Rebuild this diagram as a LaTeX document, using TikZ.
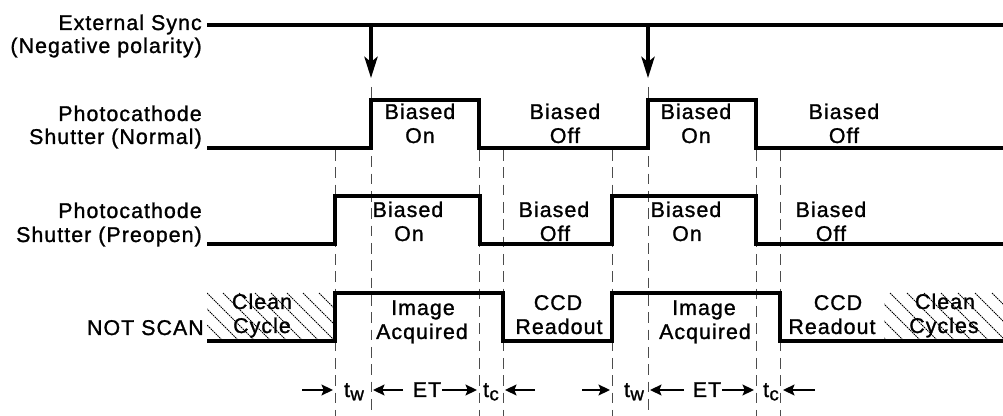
\documentclass[tikz,border=0pt]{standalone}
\usepackage{fontspec}
\setmainfont{Liberation Sans}[LetterSpace=5, FakeBold=1.2]
\usetikzlibrary{arrows.meta}
\begin{document}
\begin{tikzpicture}[x=0.75pt,y=-0.75pt,
  every node/.style={inner sep=0pt, font=\fontsize{16}{18}\selectfont},
  lab/.style={anchor=base east},
  txt/.style={anchor=base},
  sig/.style={line width=2.3pt, line join=miter, line cap=butt},
  guide/.style={line width=0.6pt, black!70, dash pattern=on 8pt off 5pt},
  hatch/.style={line width=0.6pt, dash pattern=on 1.2pt off 0.6pt},
  syncarrow/.style={line width=2.3pt, -{Stealth[length=16pt,width=10pt,inset=4pt]}},
  tarrow/.style={line width=2.2pt, -{Stealth[length=8.5pt,width=8pt,inset=1.5pt]}}
]
\useasboundingbox (0,0) rectangle (1003,416);

% ---- dashed guide lines
\foreach \gx/\gy in {335/150,371/87,479/150,503/150,612/150,648/87,756/150,780/150}
  \draw[guide] (\gx,\gy) -- (\gx,416);

% ---- hatched clean-cycle regions
\begin{scope}
  \clip (207,293) rectangle (335,341);
  \foreach \x in {159,175,...,335} \draw[hatch] (\x,293) -- ++(48,48);
\end{scope}
\begin{scope}
  \clip (884,293) rectangle (1003,341);
  \foreach \x in {839,856,...,1003} \draw[hatch] (\x,293) -- ++(48,48);
\end{scope}

% ---- left labels
\node[lab] (es1) at (202,30) {External Sync};
\node[lab] (es2) at (202,53) {(Negative polarity)};
\node[lab] (pn1) at (202,121) {Photocathode};
\node[lab] (pn2) at (202,144) {Shutter (Normal)};
\node[lab] (pp1) at (202,218) {Photocathode};
\node[lab] (pp2) at (202,242) {Shutter (Preopen)};
\node[lab] (ns) at (204,335) {NOT SCAN};

% ---- external sync
\coordinate (s0) at (207,25);
\coordinate (s1) at (371,25);
\coordinate (s2) at (648,25);
\coordinate (s3) at (1003,25);
\coordinate (t1) at (371,78);
\coordinate (t2) at (648,78);
\draw[sig] (s0) -- (s3);
\draw[syncarrow] (s1) -- (t1);
\draw[syncarrow] (s2) -- (t2);

% ---- waveforms
\draw[sig] (207,148) -| (371,100) -| (479,148) -| (648,100) -| (756,148) -- (1003,148);
\draw[sig] (207,244) -| (335,196) -| (480,244) -| (612,196) -| (756,244) -- (1003,244);
\draw[sig] (207,341) -| (335,293) -| (503,341) -| (612,293) -| (780,341) -- (1003,341);

% ---- row 1 labels
\node[txt] (n1a) at (420,119) {Biased};
\node[txt] (n1b) at (420,143) {On};
\node[txt] (n2a) at (565,119) {Biased};
\node[txt] (n2b) at (565,143) {Off};
\node[txt] (n3a) at (696,119) {Biased};
\node[txt] (n3b) at (696,143) {On};
\node[txt] (n4a) at (844,119) {Biased};
\node[txt] (n4b) at (844,143) {Off};

% ---- row 2 labels
\node[txt] (p1a) at (408,217) {Biased};
\node[txt] (p1b) at (409,241) {On};
\node[txt] (p2a) at (554,217) {Biased};
\node[txt] (p2b) at (555,241) {Off};
\node[txt] (p3a) at (686,217) {Biased};
\node[txt] (p3b) at (687,241) {On};
\node[txt] (p4a) at (831,217) {Biased};
\node[txt] (p4b) at (831,241) {Off};

% ---- row 3 labels
\node[txt] (c1a) at (262,309) {Clean};
\node[txt] (c1b) at (262,333) {Cycle};
\node[txt] (i1a) at (423,315) {Image};
\node[txt] (i1b) at (422,339) {Acquired};
\node[txt] (r1a) at (558,310) {CCD};
\node[txt] (r1b) at (559,334) {Readout};
\node[txt] (i2a) at (704,315) {Image};
\node[txt] (i2b) at (705,339) {Acquired};
\node[txt] (r2a) at (838,310) {CCD};
\node[txt] (r2b) at (832,334) {Readout};
\node[txt] (c2a) at (945,309) {Clean};
\node[txt] (c2b) at (944,333) {Cycles};

% ---- timing row
\newcommand{\tsub}[2]{#1\kern0.3pt\raisebox{-2.5pt}{\fontsize{14}{14}\selectfont #2}}
\node[txt] (tw1) at (354,397) {\tsub{t}{w}};
\node[txt] (et1) at (427,397) {ET};
\node[txt] (tc1) at (491,397) {\tsub{t}{c}};
\node[txt] (tw2) at (634,397) {\tsub{t}{w}};
\node[txt] (et2) at (707,397) {ET};
\node[txt] (tc2) at (771,397) {\tsub{t}{c}};

\coordinate (a1s) at (302,390); \coordinate (a1e) at (333,390);
\coordinate (a2s) at (403,390); \coordinate (a2e) at (373,390);
\coordinate (a3s) at (442,390); \coordinate (a3e) at (477,390);
\coordinate (a4s) at (535,390); \coordinate (a4e) at (505,390);
\coordinate (b1s) at (582,390); \coordinate (b1e) at (610,390);
\coordinate (b2s) at (684,390); \coordinate (b2e) at (650,390);
\coordinate (b3s) at (722,390); \coordinate (b3e) at (754,390);
\coordinate (b4s) at (815,390); \coordinate (b4e) at (783,390);
\foreach \a in {a1,a2,a3,a4,b1,b2,b3,b4}
  \draw[tarrow] (\a s) -- (\a e);
\end{tikzpicture}
\end{document}
